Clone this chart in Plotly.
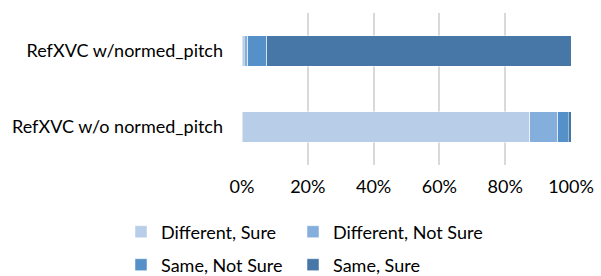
import plotly.graph_objects as go

categories = ["RefXVC w/normed_pitch", "RefXVC w/o normed_pitch"]
series_names = ["Different, Sure", "Different, Not Sure", "Same, Not Sure", "Same, Sure"]
different_sure = [0.7, 87.4]
different_not_sure = [1.0, 8.5]
same_not_sure = [5.8, 3.2]
same_sure = [92.5, 0.9]
tick_vals = [0, 20, 40, 60, 80, 100]
tick_text = ["0%", "20%", "40%", "60%", "80%", "100%"]

colors = ["#B7CDE8", "#84AEDB", "#5591C8", "#4677A7"]
values = [different_sure, different_not_sure, same_not_sure, same_sure]
legend_ids = ["legend", "legend2", "legend3", "legend4"]
# legend item anchor positions in pixels (left of item, vertical centre)
legend_pos = [(121, 232), (293, 232), (121, 265), (293, 265)]

W, H = 601, 276
FONT = "Lato"
FS = 18
fig = go.Figure()
for name, vals, col, lg in zip(series_names, values, colors, legend_ids):
    fig.add_trace(go.Bar(
        y=categories, x=vals, name=name, orientation="h",
        marker=dict(color=col, line=dict(color="rgba(255,255,255,0.7)", width=0.7)),
        legend=lg,
    ))

def cx(xpix):
    return xpix / W
def cy(ypix):
    return 1 - ypix / H

leg_layout = {}
for lg, (lx, ly) in zip(legend_ids, legend_pos):
    leg_layout[lg] = dict(orientation="h", xref="container", yref="container",
                          x=cx(lx), y=cy(ly), xanchor="left", yanchor="middle",
                          font=dict(family=FONT, size=FS),
                          bgcolor="rgba(0,0,0,0)")

fig.update_layout(
    width=W, height=H,
    barmode="stack", bargap=0.6,
    margin=dict(l=242, r=30, t=13, b=111, autoexpand=False),
    plot_bgcolor="white", paper_bgcolor="white",
    font=dict(family=FONT, size=FS, color="#000000"),
    xaxis=dict(range=[0, 100], tickvals=tick_vals, ticktext=tick_text,
               showgrid=True, gridcolor="#D9D9D9", gridwidth=2,
               zeroline=False, showline=False, ticks="",
               ticklabelstandoff=9, fixedrange=True, automargin=False),
    yaxis=dict(autorange="reversed", showgrid=False, ticks="", showline=False,
               ticklabelstandoff=18, fixedrange=True, automargin=False),
    showlegend=True,
    **leg_layout,
)
fig.write_html("out.html", config={"displayModeBar": False},
               post_script="document.body.style.margin='0';")
